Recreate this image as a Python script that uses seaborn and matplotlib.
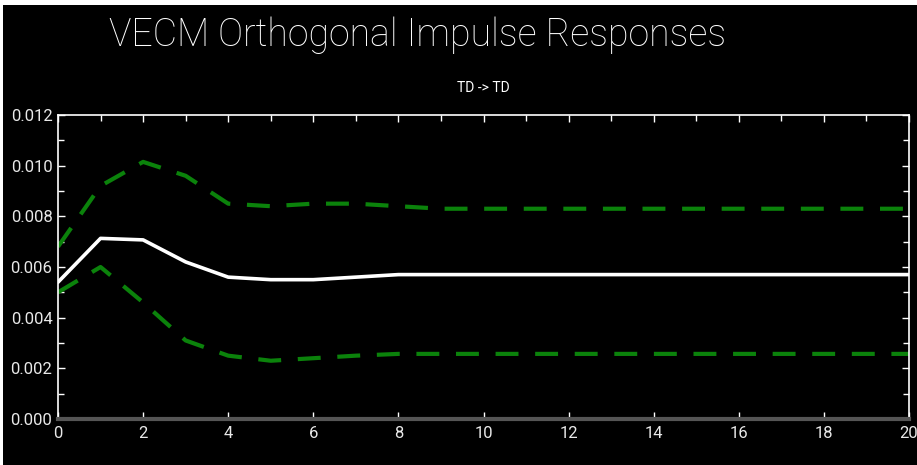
import matplotlib.pyplot as plt
import matplotlib.ticker as mticker
import pandas as pd
import seaborn as sns

# Impulse response values (lags 0..20)
lags = list(range(21))
response = [0.0054, 0.00713, 0.00707, 0.0062, 0.0056, 0.0055, 0.0055, 0.0056, 0.0057, 0.0057,
            0.0057, 0.0057, 0.0057, 0.0057, 0.0057, 0.0057, 0.0057, 0.0057, 0.0057, 0.0057, 0.0057]
upper = [0.0068, 0.0092, 0.01015, 0.0096, 0.0085, 0.0084, 0.0085, 0.0085, 0.0084, 0.0083,
         0.0083, 0.0083, 0.0083, 0.0083, 0.0083, 0.0083, 0.0083, 0.0083, 0.0083, 0.0083, 0.0083]
lower = [0.0050, 0.0060, 0.0046, 0.0031, 0.0025, 0.0023, 0.0024, 0.0025, 0.00257, 0.00257,
         0.00257, 0.00257, 0.00257, 0.00257, 0.00257, 0.00257, 0.00257, 0.00257, 0.00257, 0.00257, 0.00257]

df = pd.DataFrame({'lag': lags, 'response': response, 'upper': upper, 'lower': lower})

sns.set_style('dark')
plt.rcParams['font.family'] = ['Roboto', 'DejaVu Sans']

fig = plt.figure(figsize=(9.17, 4.65), dpi=100, facecolor='white')
# black backdrop (the original has a thin white edge top/left)
fig.patches.append(plt.Rectangle((3 / 917, 0), 1, 1 - 5 / 465, transform=fig.transFigure,
                                 facecolor='black', edgecolor='none', zorder=-10))
ax = fig.add_axes([58 / 917, 46 / 465, 851 / 917, 304 / 465])
ax.set_facecolor('black')

# Draw lines
sns.lineplot(data=df, x='lag', y='upper', ax=ax, color='#0b820b', linewidth=3,
             linestyle=(0, (5.5, 4)))
sns.lineplot(data=df, x='lag', y='lower', ax=ax, color='#0b820b', linewidth=3,
             linestyle=(0, (5.5, 4)))
sns.lineplot(data=df, x='lag', y='response', ax=ax, color='white', linewidth=2.6)

ax.set_xlim(0, 20)
ax.set_ylim(0, 0.012)
ax.set_xlabel('')
ax.set_ylabel('')
ax.grid(False)

# Axes styling
for side in ['left', 'top', 'right']:
    ax.spines[side].set_visible(True)
    ax.spines[side].set_color('white')
    ax.spines[side].set_linewidth(1.2)
ax.spines['bottom'].set_visible(True)
ax.spines['bottom'].set_color('#555555')
ax.spines['bottom'].set_linewidth(3)

ax.xaxis.set_major_locator(mticker.MultipleLocator(2))
ax.xaxis.set_minor_locator(mticker.MultipleLocator(1))
ax.yaxis.set_major_locator(mticker.MultipleLocator(0.002))
ax.yaxis.set_minor_locator(mticker.MultipleLocator(0.001))
ax.yaxis.set_major_formatter(mticker.FormatStrFormatter('%.3f'))
ax.tick_params(which='both', direction='in', color='white', labelcolor='#e8e8e8',
               labelsize=12, left=True, right=True, bottom=True, top=True)
ax.tick_params(which='major', length=5, width=1)
ax.tick_params(which='minor', length=4, width=1, bottom=False)
ax.tick_params(axis='x', pad=5)
ax.tick_params(axis='y', pad=4)

# Titles
fig.text(418 / 917, 1 - 35 / 465, 'VECM Orthogonal Impulse Responses', color='white',
         fontsize=27, fontweight='light', ha='center', va='center')
fig.text(483 / 917, 1 - 88 / 465, 'TD -> TD', color='white', fontsize=10,
         ha='center', va='center')

fig.savefig('out.png', dpi=100, facecolor=fig.get_facecolor())
